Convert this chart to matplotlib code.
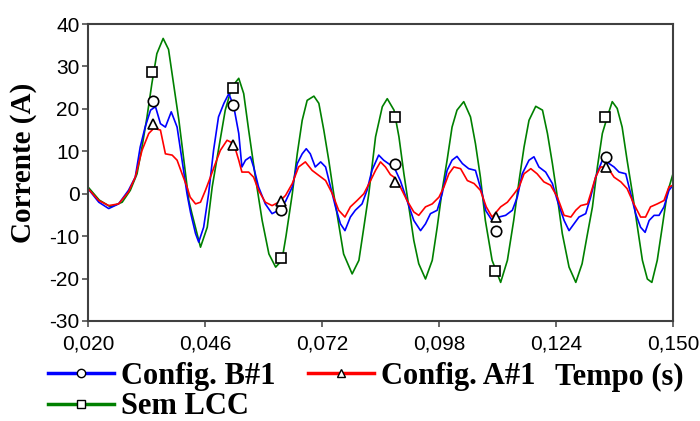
import matplotlib

matplotlib.use("Agg")
import matplotlib.pyplot as plt
from matplotlib.lines import Line2D

plt.rcParams["axes.unicode_minus"] = False

# time in ms, current in A
sem_lcc = [
    (20, 1.6), (22.5, -1.5), (25, -3.1), (27.6, -2), (29.4, 0.8), (30.9, 4.7), (32, 11),
    (33.1, 18), (34.2, 26), (35.3, 33), (36.7, 36.6), (37.9, 34), (39, 26), (40.2, 17.3),
    (41.3, 7.9), (42.4, -1.6), (43.1, -4.7), (45, -12.6), (46.5, -7.9), (47.6, 1.6),
    (49.1, 11), (50.5, 19.7), (52, 25.2), (53.5, 27.2), (54.6, 23.6), (55.7, 15),
    (57.2, 3.9), (58.7, -6.3), (60.2, -14.2), (61.7, -17.3), (63.1, -15.7), (64, -10),
    (65.4, 0), (66.5, 9.4), (67.6, 17.3), (68.7, 22), (70.2, 23), (71.3, 21.3),
    (72.4, 15), (73.5, 7.9), (74.6, 0), (75.7, -7.1), (76.8, -14.2), (78.7, -18.9),
    (80.2, -15.7), (81.3, -7.9), (82.4, 0), (83.9, 13.4), (85.4, 20.5), (86.5, 22.4),
    (88, 19.7), (89.1, 13.4), (90.2, 4.7), (91.3, -3.1), (92.4, -11), (93.5, -16.5),
    (95, -20.1), (96.5, -15.7), (97.6, -7.9), (98.7, 0.8), (99.8, 7.9), (100.9, 15.7),
    (102, 19.7), (103.5, 21.7), (105, 18.1), (106.1, 11.8), (107.2, 3.9), (108.3, -6.3),
    (109.8, -15.7), (111.7, -20.9), (113.2, -15.7), (114.6, -6.3), (115.8, 3.1),
    (116.9, 11), (118, 17.3), (119.5, 20.6), (121, 19.7), (122.1, 14.2), (123.2, 7.1),
    (124.3, -0.8), (125.4, -9.4), (126.9, -17.3), (128.4, -20.9), (129.8, -16.5),
    (130.9, -10), (132.1, -3.1), (133.2, 6.3), (134.3, 14.2), (135.4, 18.1), (136.5, 21.7),
    (137.6, 20.1), (138.7, 15.7), (139.8, 7.9), (141, 0), (142.1, -7.9), (143.2, -15.7),
    (144.3, -20.1), (145.3, -20.9), (146.5, -15.7), (147.6, -7.9), (148.7, 0), (150, 4.7),
]
config_b = [
    (20, 1.2), (22.4, -2), (24.6, -3.5), (26.8, -2.4), (29, 0.8), (30.5, 3.9), (31.6, 11),
    (32.7, 15.7), (33.9, 19.7), (35, 20.5), (36.1, 16.5), (37.2, 15.7), (38.5, 19.3),
    (39.8, 15.7), (40.9, 7.9), (42, 0), (42.8, -4.5), (43.9, -9.4), (44.6, -11.4),
    (45.7, -7.9), (46.8, 0), (47.9, 10.2), (49, 18.1), (50.2, 21.3), (51.3, 23.6),
    (52.4, 20.5), (53.5, 14.2), (54.2, 6.3), (55, 7.9), (56.1, 8.7), (56.8, 6.3),
    (57.9, 1.6), (59.4, -2.4), (60.9, -4.7), (62.4, -3.9), (63.9, -1.8), (65.4, 1.6),
    (66.5, 7.1), (67.6, 9.4), (68.5, 10.6), (69.4, 9.4), (70.5, 6.3), (71.7, 7.5),
    (72.8, 6.3), (73.9, 1.6), (75, -3.1), (76.1, -7.1), (77.1, -8.7), (78.3, -5.5),
    (79.4, -3.9), (80.9, -2.4), (82, 0.8), (83.1, 5.5), (84.6, 9.1), (85.7, 7.9),
    (86.9, 7), (88, 6.3), (89.4, 3.1), (90.9, -1.6), (92.4, -6.3), (93.9, -8.7),
    (95, -7.1), (96.1, -4.7), (97.6, -3.9), (98.7, 0), (99.8, 5.5), (100.9, 7.9),
    (102, 8.8), (103.2, 7.1), (104.6, 5.9), (106.1, 5.5), (107.6, 0), (108.4, -4),
    (109.8, -6.3), (111.3, -5.5), (112.8, -5.1), (114.3, -3.9), (115.4, -0.8),
    (116.5, 4.7), (118, 7.9), (119.1, 8.7), (120.2, 6.3), (121.7, 5.1), (123.2, 2.4),
    (124.3, -1.6), (125.8, -6.3), (126.9, -8.7), (128, -7.1), (129.1, -5.5),
    (130.6, -4.7), (131.7, -0.8), (132.8, 3.9), (134.3, 7.9), (135.8, 7.1), (136.9, 6.3),
    (138, 5.1), (139.5, 4.7), (140.6, 0), (141.7, -4.7), (142.8, -7.9), (143.8, -9.1),
    (144.7, -6.3), (145.8, -5.1), (146.9, -5.1), (148, -3.1), (149.1, 0.8), (150, 2),
]
config_a = [
    (20, 1.2), (22.4, -1.6), (24.6, -2.8), (26.8, -2.4), (29, 0.4), (30.5, 3.9), (32, 10.2),
    (33.5, 14.2), (34.6, 15.4), (36.1, 15), (37.2, 9.4), (38.7, 9.1), (39.8, 7.9),
    (40.9, 4.7), (42, 1.6), (42.7, -0.8), (43.9, -2.4), (45, -2), (46.1, 0.8), (47.2, 3.9),
    (48.3, 7.1), (49.4, 10.2), (50.9, 12.6), (52.4, 11.8), (53.5, 7.9), (54.2, 5.1),
    (55.7, 5.1), (56.8, 3.9), (57.9, 0.8), (59.4, -2), (60.9, -2.8), (62.4, -2),
    (63.9, -0.4), (65.4, 2.4), (66.8, 6.3), (68.3, 7.5), (69.8, 5.5), (71.3, 4.3),
    (72.8, 3.1), (74.3, 0), (75.7, -3.9), (77.1, -5.5), (78.3, -3.1), (79.8, -1.6),
    (81.3, 0), (82.8, 3.1), (83.9, 5.5), (85, 7.5), (86.1, 6.3), (87.2, 4.5), (88, 3.9),
    (89.4, 1.6), (90.9, -1.6), (92.4, -4.3), (93.5, -5.1), (95, -3.1), (96.5, -2.4),
    (98, -0.8), (99.1, 1.6), (100.2, 4.7), (101.3, 6.3), (102.8, 5.9), (104.3, 3.1),
    (105.8, 2.4), (107.2, 0.8), (108.5, -3.1), (109.8, -5.5), (111.7, -3.1), (113.2, -2),
    (114.7, 0), (115.8, 1.6), (116.9, 4.7), (118.4, 5.9), (119.8, 4.7), (121.3, 2.8),
    (122.8, 2), (124.3, -0.8), (125.8, -5.1), (127.3, -5.5), (128.4, -3.9), (129.5, -2.8),
    (131, -2.4), (131.7, 0), (132.8, 3.9), (133.9, 6.3), (135.4, 6.3), (136.9, 3.9),
    (138.4, 2.8), (139.8, 1.2), (141.3, -2.4), (142.8, -5.5), (143.9, -5.5), (145, -3.1),
    (146.5, -2.4), (148, -1.6), (149.1, 1.6), (150, 2),
]

# marker points (drawn on their own, like the original)
mark_sq = [(34.3, 28.6), (52.2, 25), (62.9, -15.1), (88.2, 18.1), (110.4, -18.3), (134.9, 18.1)]
mark_circ = [(34.4, 21.8), (52.2, 20.9), (62.9, -3.9), (88.3, 7.1), (110.6, -8.7), (135.0, 8.7)]
mark_tri = [(34.4, 16.4), (52.2, 11.4), (62.9, -1.6), (88.3, 2.8), (110.6, -5.5), (135.0, 6.3)]

xticks = [0.020, 0.046, 0.072, 0.098, 0.124, 0.150]
yticks = [-30, -20, -10, 0, 10, 20, 30, 40]

GREEN, BLUE, RED = "#008000", "#0000FF", "#FF0000"
SERIF = "Liberation Serif"
SANS = "Liberation Sans"


def split(pts):
    return [p[0] / 1000 for p in pts], [p[1] for p in pts]


fig = plt.figure(figsize=(7, 4.21), dpi=100)
ax = fig.add_axes([88 / 700, 1 - 321 / 421, 585 / 700, 297 / 421])

for pts, c in ((sem_lcc, GREEN), (config_b, BLUE), (config_a, RED)):
    t, v = split(pts)
    ax.plot(t, v, color=c, lw=1.2, zorder=2)

for pts, m in ((mark_sq, "s"), (mark_circ, "o"), (mark_tri, "^")):
    t, v = split(pts)
    ax.plot(t, v, ls="none", marker=m, ms=7.5, mfc="white", mec="black", mew=1.2, zorder=3)

ax.set_xlim(0.020, 0.150)
ax.set_ylim(-30, 40)
ax.set_xticks(xticks)
ax.set_xticklabels([f"{x:.3f}".replace(".", ",") for x in xticks])
ax.set_yticks(yticks)
for lab in ax.get_xticklabels() + ax.get_yticklabels():
    lab.set_fontfamily(SANS)
    lab.set_fontsize(15)
ax.tick_params(axis="both", direction="out", length=4.5, width=1.1, color="#404040")
ax.tick_params(axis="x", pad=5)
ax.tick_params(axis="y", pad=1.5)
for s in ax.spines.values():
    s.set_color("#404040")
    s.set_linewidth(1.5)

fig.text(24 / 700, 1 - 163 / 421, "Corrente (A)", rotation=90, ha="center", va="center",
         family=SERIF, weight="bold", fontsize=21)
fig.text(555 / 700, 1 - 377 / 421, "Tempo (s)", ha="left", va="center",
         family=SERIF, weight="bold", fontsize=22)

handles = [
    Line2D([], [], color=BLUE, lw=2.5, marker="o", ms=6, mfc="white", mec="black"),
    Line2D([], [], color=GREEN, lw=2.5, marker="s", ms=6, mfc="white", mec="black"),
    Line2D([], [], color=RED, lw=2.5, marker="^", ms=6, mfc="white", mec="black"),
]
labels = ["Config. B#1", "Sem LCC", "Config. A#1"]
fig.legend(handles, labels, ncol=2, loc="upper left", bbox_to_anchor=(48 / 700, 1 - 362 / 421),
           frameon=False, borderpad=0, borderaxespad=0, handlelength=2.15, handletextpad=0.25,
           columnspacing=1.05, labelspacing=0.04,
           prop={"family": SERIF, "weight": "bold", "size": 22})

fig.savefig("out.png", dpi=100)
